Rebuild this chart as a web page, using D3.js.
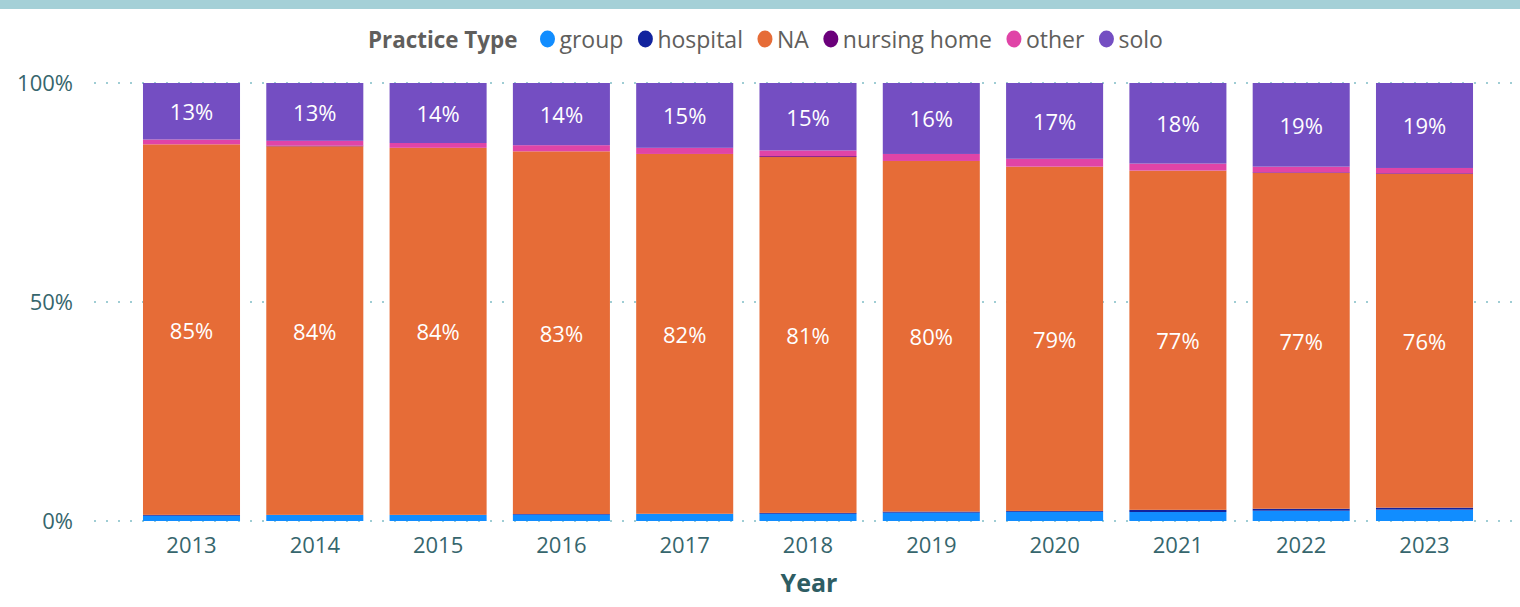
<!DOCTYPE html>
<html>
<head>
<meta charset="utf-8">
<script src="https://cdn.jsdelivr.net/npm/d3@7"></script>
<style>
  html, body { margin: 0; padding: 0; background: #fff; }
  svg { display: block; font-family: "Open Sans", "Noto Sans", sans-serif; }
</style>
</head>
<body>
<svg id="chart" width="1520" height="607"></svg>
<script>
// Share of records by practice type, per year (percent of total)
const years = ["2013", "2014", "2015", "2016", "2017", "2018", "2019", "2020", "2021", "2022", "2023"];
const practiceTypes = ["group", "hospital", "NA", "nursing home", "other", "solo"];
const group       = [1.2, 1.4, 1.4, 1.45, 1.65, 1.65, 1.9, 2.1, 2.05, 2.35, 2.6];
const hospital    = [0.2, 0.0, 0.0, 0.15, 0.0, 0.2, 0.25, 0.2, 0.5, 0.45, 0.45];
const naShare     = [84.6, 84.15, 83.8, 82.8, 82.15, 81.25, 80.05, 78.6, 77.45, 76.65, 76.2];
const nursingHome = [0.0, 0.15, 0.0, 0.0, 0.0, 0.2, 0.0, 0.0, 0.0, 0.15, 0.15];
const other       = [1.1, 1.1, 1.1, 1.4, 1.4, 1.3, 1.6, 1.8, 1.6, 1.3, 1.2];
const solo        = [12.9, 13.2, 13.7, 14.2, 14.8, 15.4, 16.2, 17.3, 18.4, 19.1, 19.4];
const yTicks = [0, 0.5, 1];
const labelledTypes = ["NA", "solo"];

const colors = {
  "group": "#118dff",
  "hospital": "#12239e",
  "NA": "#e66c37",
  "nursing home": "#6b007b",
  "other": "#e044a7",
  "solo": "#744ec2"
};

const seriesByType = {
  "group": group, "hospital": hospital, "NA": naShare,
  "nursing home": nursingHome, "other": other, "solo": solo
};
const rows = years.map((yr, i) => {
  const r = { year: yr };
  const total = practiceTypes.reduce((s, t) => s + seriesByType[t][i], 0);
  practiceTypes.forEach(t => { r[t] = seriesByType[t][i] / total; });
  return r;
});

const svg = d3.select("#chart");
const W = 1520, H = 607;

// card header strip
svg.append("rect").attr("x", 0).attr("y", 0).attr("width", W).attr("height", 9).attr("fill", "#a5d0d7");

const plot = { left: 94, right: 1520, top: 83, bottom: 521 };

const x = d3.scaleBand()
  .domain(years)
  .range([129.85, 1486.15])
  .paddingInner(0.213)
  .paddingOuter(0.1065);

const y = d3.scaleLinear().domain([0, 1]).range([plot.bottom, plot.top]);

// dotted gridlines
svg.append("g").selectAll("line")
  .data(yTicks)
  .join("line")
  .attr("x1", plot.left).attr("x2", plot.right)
  .attr("y1", d => y(d)).attr("y2", d => y(d))
  .attr("stroke", "#9fcdd4")
  .attr("stroke-width", 2)
  .attr("stroke-dasharray", "2,10");

// y axis
const yAxis = d3.axisLeft(y).tickValues(yTicks).tickFormat(d3.format(".0%")).tickSize(0).tickPadding(0);
svg.append("g")
  .attr("transform", "translate(73,0)")
  .call(yAxis)
  .call(g => g.select(".domain").remove())
  .call(g => g.selectAll("text")
    .attr("fill", "#36666d")
    .attr("font-size", 22)
    .attr("font-family", "'Open Sans', sans-serif")
    .attr("dy", "0.35em"));

// x axis
const xAxis = d3.axisBottom(x).tickSize(0).tickPadding(0);
svg.append("g")
  .attr("transform", `translate(0,${plot.bottom})`)
  .call(xAxis)
  .call(g => g.select(".domain").remove())
  .call(g => g.selectAll("text")
    .attr("fill", "#36666d")
    .attr("font-size", 22)
    .attr("font-family", "'Open Sans', sans-serif")
    .attr("y", 24)
    .attr("dy", "0.35em"));

// axis title
svg.append("text")
  .attr("x", 809).attr("y", 582)
  .attr("text-anchor", "middle")
  .attr("dominant-baseline", "central")
  .attr("font-size", 25)
  .attr("font-weight", "bold")
  .attr("fill", "#2e5d63")
  .text("Year");

// stacked bars
const stacked = d3.stack().keys(practiceTypes)(rows);

const layers = svg.append("g").selectAll("g")
  .data(stacked)
  .join("g")
  .attr("fill", d => colors[d.key]);

layers.selectAll("rect")
  .data(d => d)
  .join("rect")
  .attr("x", d => x(d.data.year))
  .attr("width", x.bandwidth())
  .attr("y", d => y(d[1]))
  .attr("height", d => Math.max(0, y(d[0]) - y(d[1])));

// data labels
const fmt = d3.format(".0%");
svg.append("g").selectAll("g")
  .data(stacked.filter(s => labelledTypes.includes(s.key)))
  .join("g")
  .selectAll("text")
  .data(d => d)
  .join("text")
  .attr("x", d => x(d.data.year) + x.bandwidth() / 2)
  .attr("y", d => (y(d[0]) + y(d[1])) / 2)
  .attr("text-anchor", "middle")
  .attr("dominant-baseline", "central")
  .attr("fill", "#ffffff")
  .attr("font-size", 22)
  .text(d => fmt(d[1] - d[0]));

// legend
const legend = svg.append("g").attr("transform", "translate(368,39)");
const title = legend.append("text")
  .attr("x", 0).attr("y", 0)
  .attr("dominant-baseline", "central")
  .attr("font-size", 22.4)
  .attr("font-weight", "bold")
  .attr("fill", "#605e5c")
  .text("Practice Type");
let cursor = title.node().getComputedTextLength() + 23;
practiceTypes.forEach(t => {
  legend.append("ellipse")
    .attr("cx", cursor + 7).attr("cy", 0).attr("rx", 7.5).attr("ry", 8.5)
    .attr("fill", colors[t]);
  const tx = legend.append("text")
    .attr("x", cursor + 19).attr("y", 0)
    .attr("dominant-baseline", "central")
    .attr("font-size", 23)
    .attr("fill", "#605e5c")
    .text(t);
  cursor += 19 + tx.node().getComputedTextLength() + 15;
});
</script>
</body>
</html>
